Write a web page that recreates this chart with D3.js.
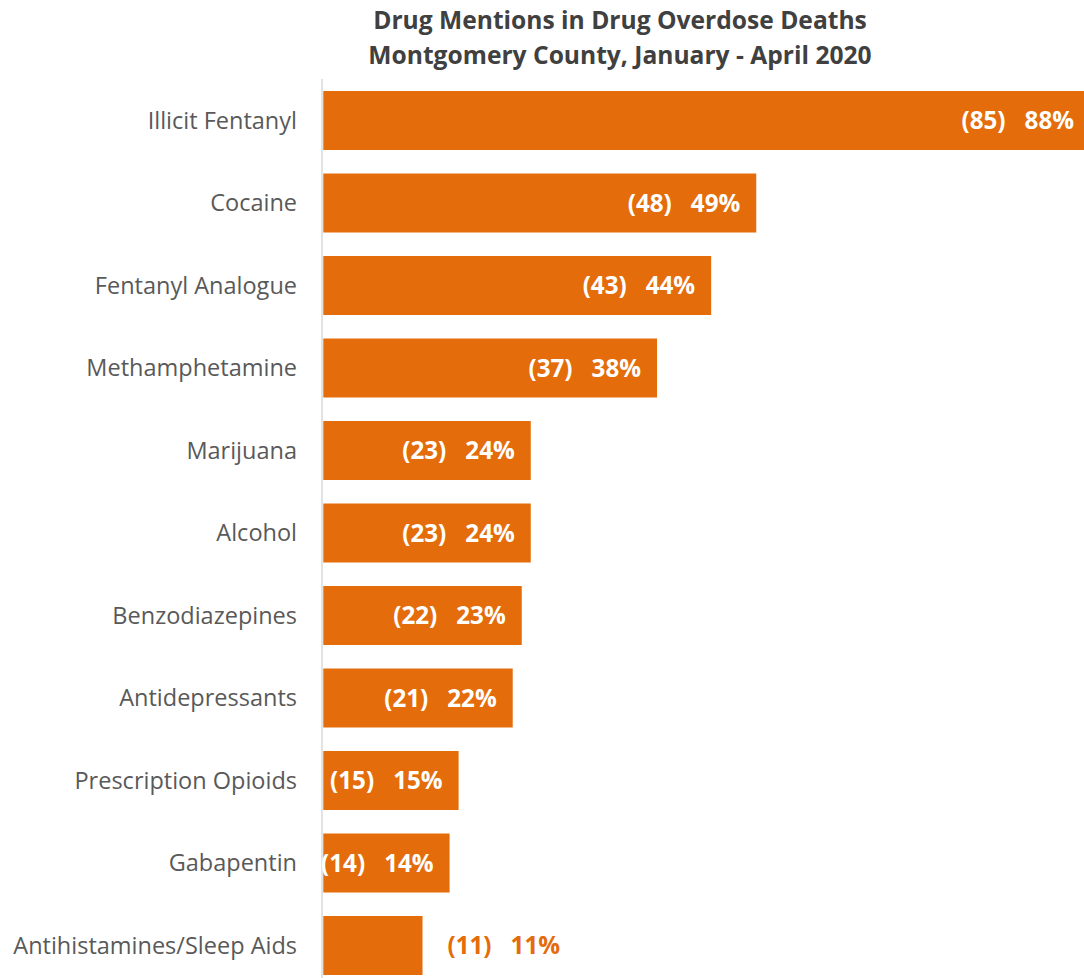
<!DOCTYPE html>
<html><head><meta charset="utf-8">
<script src="https://cdn.jsdelivr.net/npm/d3@7"></script>
<style>html,body{margin:0;padding:0;background:#fff;overflow:hidden}</style>
</head><body>
<svg id="chart" width="1084" height="978"></svg>
<script>
const categories = ["Illicit Fentanyl","Cocaine","Fentanyl Analogue","Methamphetamine","Marijuana","Alcohol","Benzodiazepines","Antidepressants","Prescription Opioids","Gabapentin","Antihistamines/Sleep Aids"];
const counts = [85,48,43,37,23,23,22,21,15,14,11];
const percents = [88,49,44,38,24,24,23,22,15,14,11];
const titleLines = ["Drug Mentions in Drug Overdose Deaths","Montgomery County, January - April 2020"];

const data = categories.map((c,i)=>({cat:c,count:counts[i],pct:percents[i]}));
const svg = d3.select("#chart");
const orange = "#E46C0A";
const x = d3.scaleLinear().domain([0,85]).range([323.3, 323.3+85*9.02]);
const y = d3.scaleBand().domain(categories).range([79.25, 986.75]).paddingInner(0.285).paddingOuter(0.1425);

svg.append("g").selectAll("text").data(titleLines).join("text")
  .attr("x",620).attr("y",(d,i)=>29+i*35)
  .attr("text-anchor","middle")
  .attr("font-family","'Open Sans', sans-serif").attr("font-weight","bold")
  .attr("font-size",24.6).attr("fill","#404040").text(d=>d);

svg.append("g").selectAll("rect").data(data).join("rect")
  .attr("x",x(0)).attr("y",d=>y(d.cat))
  .attr("width",d=>x(d.count)-x(0)).attr("height",y.bandwidth())
  .attr("fill",orange);

svg.append("line").attr("x1",322).attr("x2",322).attr("y1",79).attr("y2",987)
  .attr("stroke","#d9d9d9").attr("stroke-width",1.5);

svg.append("g").selectAll("text").data(data).join("text")
  .attr("x",297).attr("y",d=>y(d.cat)+y.bandwidth()/2)
  .attr("dy","0.35em").attr("text-anchor","end")
  .attr("font-family","'Open Sans', sans-serif").attr("font-size",23.5)
  .attr("fill","#595959").text(d=>d.cat);

svg.append("g").selectAll("text").data(data).join("text")
  .attr("y",d=>y(d.cat)+y.bandwidth()/2).attr("dy","0.36em")
  .attr("font-family","'Open Sans', sans-serif").attr("font-weight","bold").attr("font-size",24.2)
  .each(function(d){
    const t = d3.select(this);
    const inside = d.count > 12;
    t.attr("text-anchor", inside ? "end" : "start")
     .attr("x", inside ? x(d.count)-16 : x(d.count)+25)
     .attr("fill", inside ? "#fff" : orange);
    t.append("tspan").text("("+d.count+")");
    t.append("tspan").attr("dx",19).text(d.pct+"%");
  });
</script>
</body></html>
